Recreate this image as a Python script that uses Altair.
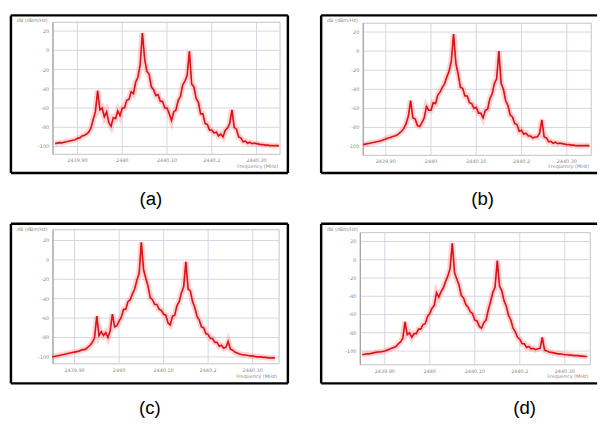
import altair as alt
import pandas as pd

# ---------------- data ----------------
x_steps = [round(-0.5 + 0.05 * i, 2) for i in range(101)]  # sampling positions (grid units)

spec_a = [-97, -96.5, -96, -96.2, -95.5, -95, -94.5, -94, -93.5, -93,
          -91.5, -91, -89, -88.5, -87, -85, -81, -72, -64, -42,
          -62, -60, -69, -64, -75, -79, -70, -71, -63, -68,
          -60, -60, -52, -51, -43, -45, -33, -28, -15, 18,
          -9, -22, -25, -38, -41, -47, -46, -53, -53, -60,
          -60, -66, -73, -64, -62, -52, -48, -36, -32, -26,
          -1, -35, -38, -50, -54, -66, -66, -76, -77, -83,
          -83, -86, -85, -89, -87, -90, -83, -81, -76, -62,
          -80, -82, -90, -91, -95, -94.5, -96.5, -95.5, -97, -96.5,
          -97, -97.5, -98, -98, -98.5, -98.5, -99, -99, -99, -99, -99]

spec_b = [-98, -97.5, -97, -96.5, -96, -95.5, -95, -94.5, -94, -93,
          -92, -91, -90.5, -89.5, -89, -88, -86, -84, -81, -76,
          -68, -52, -70, -71, -78, -79, -75, -70, -58, -62,
          -62, -54, -55, -46, -43, -38, -34, -27, -21, -10,
          18, -13, -24, -38, -39, -47, -47, -54, -55, -60,
          -59, -65, -65, -70, -62, -61, -50, -45, -34, -29,
          0, -34, -40, -52, -57, -67, -69, -76, -77, -84,
          -83, -87, -86, -89, -89, -91, -90, -90, -86, -72,
          -90, -91, -95, -94.5, -96.5, -95.5, -97, -96.5, -97, -97.5,
          -98, -98, -98.5, -98.5, -99, -99, -99, -99, -99, -99, -99]

spec_c = [-100, -99.5, -99, -98.5, -98, -97.5, -97, -96.5, -96, -95.5,
          -95, -94.5, -94, -93, -92.5, -92, -90, -88, -85, -80,
          -58, -78, -74, -78, -75, -80, -73, -56, -69, -68,
          -63, -59, -51, -51, -43, -41, -35, -30, -21, -14,
          18, -10, -19, -27, -39, -41, -46, -46, -51, -52,
          -56, -57, -65, -67, -58, -57, -47, -43, -34, -28,
          -2, -30, -32, -43, -49, -58, -62, -69, -70, -76,
          -77, -81, -81, -85, -85, -89, -88, -91, -90, -84,
          -92, -93, -95, -96, -97, -97.5, -98, -98, -98.5, -99,
          -99, -99.5, -100, -100, -100, -100.5, -100.5, -101, -101, -101, -101]

spec_d = [-104, -103.5, -103, -103, -102.5, -102, -101.5, -101, -101, -100.5,
          -100, -99, -98, -97, -96, -95, -92, -90, -86, -68,
          -82, -80, -85, -81, -81, -76, -76, -71, -70, -62,
          -59, -53, -50, -36, -41, -35, -31, -24, -18, -10,
          18, -14, -21, -28, -39, -42, -49, -52, -57, -59,
          -66, -67, -73, -75, -69, -66, -55, -46, -36, -30,
          -1, -29, -34, -45, -51, -61, -66, -75, -79, -85,
          -87, -92, -92, -96, -95, -97.5, -97, -98.5, -97.5, -97,
          -85, -99, -100, -101, -101.5, -102, -102.5, -103, -103, -103.5,
          -104, -104, -104.5, -104.5, -105, -105, -105, -105.5, -105.5, -106, -106]

panel_labels = ["(a)", "(b)", "(c)", "(d)"]
y_ticks = [20, 0, -20, -40, -60, -80, -100]
x_ticks = [0, 1, 2, 3, 4]
x_tick_labels = ["2439.90", "2440", "2440.10", "2440.2", "2440.30"]
y_title = "dB  (dBm/Hz)"
x_title = "Frequency  (MHz)"

# ---------------- layout (page pixels) ----------------
GEOM = [
    dict(frame=(10, 10, 293, 171), plot=(53, 17, 285, 152), xgrid=(78, 261), ygrid=(26, 144), lab=153, off=17, right=True),
    dict(frame=(327, 10, 609, 171), plot=(370, 18, 603, 153), xgrid=(393, 578), ygrid=(27, 144), lab=492, off=17, right=False),
    dict(frame=(10, 223, 293, 386), plot=(53, 229, 284, 366), xgrid=(75, 257), ygrid=(240, 359), lab=152, off=15, right=True),
    dict(frame=(327, 223, 609, 386), plot=(367, 232, 602, 367), xgrid=(392, 576), ygrid=(241, 353), lab=535, off=15, right=False),
]

GRID = "#d5d5e2"
TXT = "#8a8a8a"


def panel(vals, g, label):
    l, t, r, b = g["frame"]
    pl, pt, pr, pb = g["plot"]
    g0, g4 = g["xgrid"]
    yt, yb = g["ygrid"]
    W, H = r - l, b - t
    ux = (g4 - g0) / 4.0
    uy = (yb - yt) / 120.0
    xmin, xmax = (l - g0) / ux, (r - g0) / ux
    ymax = 20 + (yt - t) / uy
    ymin = -100 - (b - yb) / uy
    px0, px1 = (pl - g0) / ux, (pr - g0) / ux
    pyt = 20 + (yt - pt) / uy
    pyb = -100 - (pb - yb) / uy

    xs = alt.Scale(domain=[xmin, xmax], nice=False, zero=False)
    ys = alt.Scale(domain=[ymin, ymax], nice=False, zero=False)

    def X(f):
        return alt.X(f, type="quantitative", scale=xs, axis=None)

    def Y(f):
        return alt.Y(f, type="quantitative", scale=ys, axis=None)

    box = alt.Chart(pd.DataFrame([{"x0": px0, "x1": px1, "y0": pyb, "y1": pyt}])).mark_rect(
        fill="white", stroke="#c4c4c4", strokeWidth=1
    ).encode(x=X("x0"), x2="x1", y=Y("y0"), y2="y1")

    vgrid = alt.Chart(pd.DataFrame({"x": x_ticks, "y0": [pyb] * 5, "y1": [pyt] * 5})).mark_rule(
        color=GRID, strokeWidth=1
    ).encode(x=X("x"), y=Y("y0"), y2="y1")

    hgrid = alt.Chart(pd.DataFrame({"v": y_ticks, "x0": [px0] * 7, "x1": [px1] * 7})).mark_rule(
        color=GRID, strokeWidth=1
    ).encode(y=Y("v"), x=X("x0"), x2="x1")

    yaxis = alt.Chart(pd.DataFrame([{"x": px0, "y0": pyb, "y1": pyt}])).mark_rule(
        color="#9a9a9a", strokeWidth=1
    ).encode(x=X("x"), y=Y("y0"), y2="y1")

    ylab = alt.Chart(pd.DataFrame({"v": y_ticks, "x": [px0] * 7, "t": [str(v) for v in y_ticks]})).mark_text(
        align="right", baseline="middle", dx=-4, fontSize=5, color=TXT, font="DejaVu Sans"
    ).encode(x=X("x"), y=Y("v"), text="t:N")

    xlab = alt.Chart(pd.DataFrame({"x": x_ticks, "y": [pyb] * 5, "t": x_tick_labels})).mark_text(
        align="center", baseline="top", dy=4, fontSize=5, color=TXT, font="DejaVu Sans"
    ).encode(x=X("x"), y=Y("y"), text="t:N")

    ttl = alt.Chart(pd.DataFrame([{"x": xmin, "y": ymax, "t": y_title}])).mark_text(
        align="left", baseline="top", dx=6, dy=3, fontSize=5, color=TXT, font="DejaVu Sans"
    ).encode(x=X("x"), y=Y("y"), text="t:N")

    xttl = alt.Chart(pd.DataFrame([{"x": px1, "y": ymin, "t": x_title}])).mark_text(
        align="right", baseline="bottom", dx=-2, dy=-4, fontSize=5, color=TXT, font="DejaVu Sans"
    ).encode(x=X("x"), y=Y("y"), text="t:N")

    df = pd.DataFrame({"x": x_steps, "v": vals})
    halo = alt.Chart(df).mark_line(color="#ff7070", strokeWidth=6, opacity=0.3).encode(x=X("x"), y=Y("v"))
    main = alt.Chart(df).mark_line(color="#ec1c24", strokeWidth=1.7).encode(x=X("x"), y=Y("v"))
    core = alt.Chart(df).mark_line(color="#8a0000", strokeWidth=0.5, opacity=0.55).encode(x=X("x"), y=Y("v"))

    edges = [
        {"x0": xmin, "x1": xmax, "y0": ymax, "y1": ymax},
        {"x0": xmin, "x1": xmax, "y0": ymin, "y1": ymin},
        {"x0": xmin, "x1": xmin, "y0": ymin, "y1": ymax},
    ]
    if g["right"]:
        edges.append({"x0": xmax, "x1": xmax, "y0": ymin, "y1": ymax})
    frame = alt.Chart(pd.DataFrame(edges)).mark_rule(color="black", strokeWidth=2.5).encode(
        x=X("x0"), x2="x1", y=Y("y0"), y2="y1"
    )

    return alt.layer(box, vgrid, hgrid, yaxis, ylab, xlab, ttl, xttl, halo, main, core, frame).properties(
        width=W,
        height=H,
        title=alt.TitleParams(
            text=label, orient="bottom", anchor="middle", dx=g["lab"] - (l + W / 2.0),
            offset=g["off"], fontSize=19, font="Liberation Sans", fontWeight="normal", color="black",
        ),
    )


series = [spec_a, spec_b, spec_c, spec_d]
P = [panel(series[i], GEOM[i], panel_labels[i]) for i in range(4)]

col_gap = GEOM[1]["frame"][0] - GEOM[0]["frame"][2]
row_gap = GEOM[2]["frame"][1] - GEOM[0]["frame"][3]

chart = alt.concat(*P, columns=2, spacing={"row": row_gap, "column": col_gap}, bounds="flush").properties(
    padding={"left": 1, "top": 1, "right": 0, "bottom": 2}, background="white"
).configure_view(stroke=None)

chart.save("out.html", embed_options={"renderer": "svg", "actions": False})
